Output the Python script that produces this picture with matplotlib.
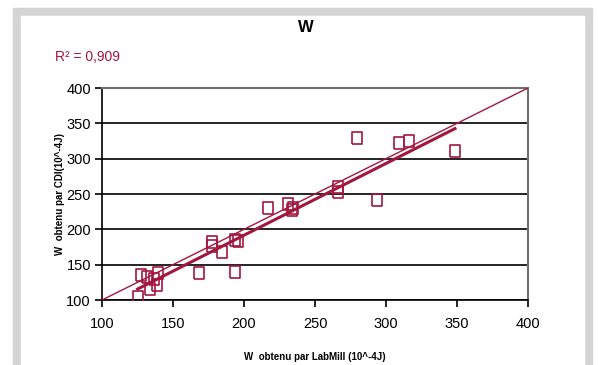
import numpy as np
import matplotlib.pyplot as plt
from matplotlib.patches import Rectangle

# W values (10^-4 J)
w_labmill = [125.1, 127.5, 131.5, 133.8, 136.8, 138.9, 139.6, 168.3, 177.2, 177.7,
             184.7, 193.6, 193.6, 195.5, 217.1, 231.2, 233.6, 234.3, 266.4, 266.4,
             279.8, 293.9, 309.4, 316.4, 348.6]
w_cdi = [104.7, 135.4, 132.0, 115.0, 130.0, 121.0, 138.6, 137.7, 182.5, 176.8,
         167.5, 140.0, 184.9, 183.5, 230.6, 235.4, 227.4, 230.6, 259.5, 253.3,
         329.7, 241.5, 321.7, 325.4, 310.8]
r2_text = "R² = 0,909"
ticks = [100, 150, 200, 250, 300, 350, 400]

RED = "#A3173F"
plt.rcParams["font.family"] = ["Liberation Sans Narrow", "Liberation Sans", "DejaVu Sans"]

fig = plt.figure(figsize=(5.98, 3.65), dpi=100)

# gray frame around the chart
fig.patches.append(Rectangle((13 / 598, -0.1), 579 / 598, 1.1 - 8 / 365,
                             transform=fig.transFigure, color="#D4D4D4", zorder=-2))
fig.patches.append(Rectangle((21 / 598, -0.1), 563 / 598, 1.1 - 16 / 365,
                             transform=fig.transFigure, color="white", zorder=-1))

ax = fig.add_axes([102 / 598, 65 / 365, 426 / 598, 212 / 365])

x = np.array(w_labmill)
y = np.array(w_cdi)

# y = x reference
ax.plot([100, 400], [100, 400], color=RED, lw=1.0, zorder=3)

# linear trend
a, b = np.polyfit(x, y, 1)
xf = np.array([x.min(), x.max()])
ax.plot(xf, a * xf + b, color=RED, lw=2.2, zorder=3)

# slightly taller-than-wide open squares
box = [(-0.8, -1), (0.8, -1), (0.8, 1), (-0.8, 1), (-0.8, -1)]
ax.plot(x, y, linestyle="none", marker=box, markersize=8.5, markerfacecolor="none",
        markeredgecolor=RED, markeredgewidth=1.2, zorder=4)

ax.set_xlim(100, 400)
ax.set_ylim(100, 400)
ax.set_xticks(ticks)
ax.set_yticks(ticks)
ax.yaxis.grid(True, color="black", lw=1.2)
ax.set_axisbelow(True)

for s in ["top", "right"]:
    ax.spines[s].set_color("#707070")
    ax.spines[s].set_linewidth(1.5)
for s in ["left", "bottom"]:
    ax.spines[s].set_color("black")
    ax.spines[s].set_linewidth(1.2)
ax.tick_params(axis="both", direction="out", length=5, width=1.2, labelsize=10.5)
ax.tick_params(axis="x", pad=7)
ax.tick_params(axis="y", pad=3)

ax.set_xlabel("W  obtenu par LabMill (10^-4J)", fontsize=7, fontweight="bold",
              family=["Liberation Sans", "DejaVu Sans"])
ax.set_ylabel("W  obtenu par CDI(10^-4J)", fontsize=7, fontweight="bold",
              family=["Liberation Sans", "DejaVu Sans"])
ax.xaxis.set_label_coords(0.5, -0.245)
ax.yaxis.set_label_coords(-0.088, 0.5)

fig.text(306 / 598, 1 - 28 / 365, "W", ha="center", va="center", fontsize=12,
         fontweight="bold", family=["Liberation Sans", "DejaVu Sans"])
fig.text(55 / 598, 1 - 57 / 365, r2_text, ha="left", va="center", fontsize=10,
         color=RED)

fig.savefig("out.png", dpi=100)
